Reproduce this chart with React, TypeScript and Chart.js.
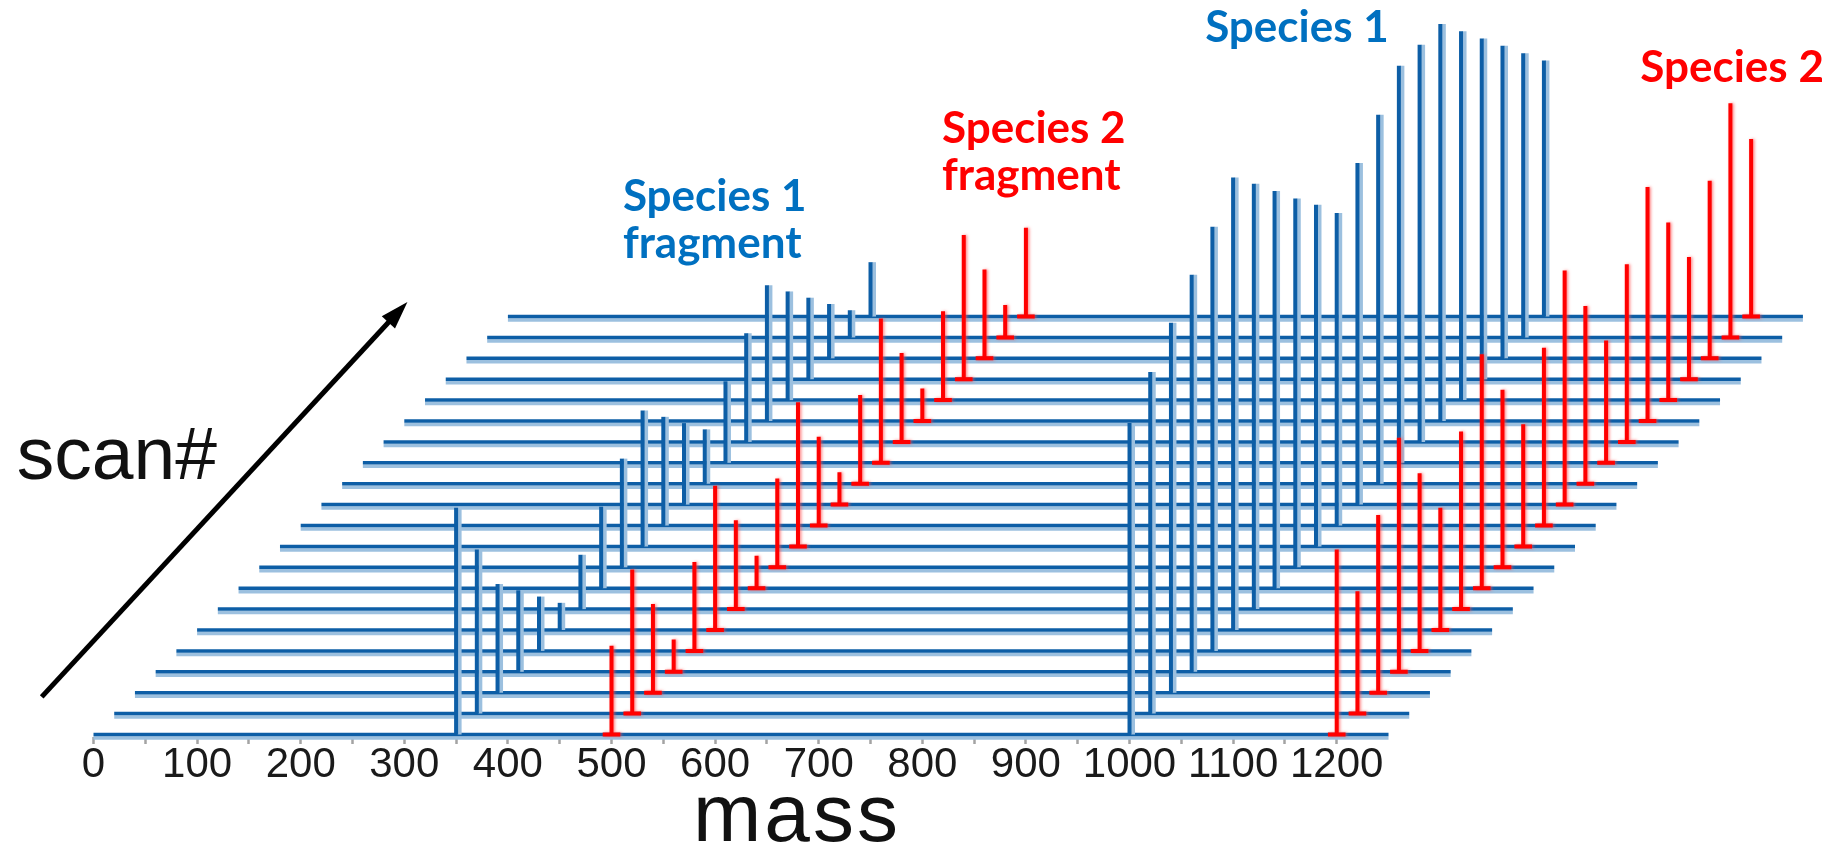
import { useEffect, useRef } from 'react';
import { Chart, registerables } from 'chart.js';

Chart.register(...registerables);

// Scan numbers, front (0) to back (20)
const scans = [0, 1, 2, 3, 4, 5, 6, 7, 8, 9, 10, 11, 12, 13, 14, 15, 16, 17, 18, 19, 20];

// Peak positions on the mass axis
const species1FragmentMass = 350;
const species2FragmentMass = 500;
const species1Mass = 1000;
const species2Mass = 1200;

// Peak intensities per scan
const species1Fragment = [217, 157, 104, 78, 52, 26, 52, 78, 104, 130, 104, 78, 52, 78, 104, 130, 104, 78, 52, 26, 52];
const species2Fragment = [85, 138, 85, 31, 85, 138, 85, 31, 85, 138, 85, 31, 85, 138, 85, 31, 85, 138, 85, 31, 85];
const species1 = [298, 327, 354, 380, 406, 433, 407, 380, 353, 327, 299, 327, 353, 380, 380, 380, 353, 326, 299, 272, 245];
const species2 = [177, 117, 170, 224, 170, 117, 170, 224, 170, 117, 170, 224, 170, 117, 170, 224, 170, 117, 170, 224, 170];

// Mass axis ticks (labelled every 100, tick marks every 50)
const massTickMarks = [0, 50, 100, 150, 200, 250, 300, 350, 400, 450, 500, 550, 600, 650, 700, 750, 800, 850, 900, 950, 1000, 1050, 1100, 1150, 1200];
const massTickLabels = [0, 100, 200, 300, 400, 500, 600, 700, 800, 900, 1000, 1100, 1200];

// Oblique projection: each scan is shifted right and up by this amount
const SCAN_SHIFT = 20;
const SCAN_MASS_RANGE = 1250;
const FOOT_HALF = 8.5;

const DARK_BLUE = '#0d5ea6';
const SHADE_BLUE = '#9cc0df';
const RED = '#ff0000';
const LABEL_BLUE = '#0070c0';

type Pt = { x: number; y: number };

function stem(mass: number, scan: number, h: number): Pt[] {
  const x = mass + scan * SCAN_SHIFT;
  const y0 = scan * SCAN_SHIFT;
  return [{ x, y: y0 }, { x, y: y0 + h }];
}

function footedStem(mass: number, scan: number, h: number): Pt[] {
  const x = mass + scan * SCAN_SHIFT;
  const y0 = scan * SCAN_SHIFT;
  return [
    { x: x - FOOT_HALF, y: y0 },
    { x: x + FOOT_HALF, y: y0 },
    { x, y: y0 },
    { x, y: y0 + h },
  ];
}

function buildDatasets() {
  const sets: any[] = [];
  // first dataset is painted last, so the front scan goes first
  scans.forEach((s, i) => {
    const common = { showLine: true, pointRadius: 0, pointHoverRadius: 0, clip: false, borderCapStyle: 'butt', borderJoinStyle: 'miter' };
    sets.push({ ...common, data: footedStem(species2FragmentMass, s, species2Fragment[i]), borderColor: RED, borderWidth: 4, shade: 'red' });
    sets.push({ ...common, data: footedStem(species2Mass, s, species2[i]), borderColor: RED, borderWidth: 4, shade: 'red' });
    sets.push({ ...common, data: stem(species1FragmentMass, s, species1Fragment[i]), borderColor: DARK_BLUE, borderWidth: 4, shade: 'stem' });
    sets.push({ ...common, data: stem(species1Mass, s, species1[i]), borderColor: DARK_BLUE, borderWidth: 4, shade: 'stem' });
    sets.push({
      ...common,
      data: [
        { x: s * SCAN_SHIFT, y: s * SCAN_SHIFT },
        { x: s * SCAN_SHIFT + SCAN_MASS_RANGE, y: s * SCAN_SHIFT },
      ],
      borderColor: DARK_BLUE,
      borderWidth: 3.5,
      shade: 'base',
    });
  });
  return sets;
}

// Text annotations, anchored in chart data units
const speciesLabels = [
  { lines: ['Species 1', 'fragment'], mass: 511, y: 501, color: LABEL_BLUE },
  { lines: ['Species 2', 'fragment'], mass: 819, y: 566, color: RED },
  { lines: ['Species 1'], mass: 1073, y: 663, color: LABEL_BLUE },
  { lines: ['Species 2'], mass: 1493, y: 624, color: RED },
];

const shadePlugin = {
  id: 'tubeShade',
  beforeDatasetDraw(chart: any, args: any) {
    const ds = chart.data.datasets[args.index];
    const ctx = chart.ctx as CanvasRenderingContext2D;
    ctx.save();
    ctx.shadowBlur = 0;
    if (ds.shade === 'base') {
      ctx.shadowColor = SHADE_BLUE;
      ctx.shadowOffsetX = 0;
      ctx.shadowOffsetY = 3.5;
    } else if (ds.shade === 'stem') {
      ctx.shadowColor = SHADE_BLUE;
      ctx.shadowOffsetX = 3.5;
      ctx.shadowOffsetY = 0;
    } else if (ds.shade === 'red') {
      ctx.shadowColor = 'rgba(255,80,80,0.65)';
      ctx.shadowBlur = 3;
      ctx.shadowOffsetX = 1.5;
      ctx.shadowOffsetY = 0;
    }
  },
  afterDatasetDraw(chart: any) {
    chart.ctx.restore();
  },
};

const annotationPlugin = {
  id: 'annotations',
  afterDraw(chart: any) {
    const ctx = chart.ctx as CanvasRenderingContext2D;
    const xs = chart.scales.x;
    const ys = chart.scales.y;
    const px = (m: number) => xs.getPixelForValue(m);
    const py = (v: number) => ys.getPixelForValue(v);
    ctx.save();

    // species labels
    ctx.textAlign = 'left';
    ctx.textBaseline = 'alphabetic';
    ctx.font = 'bold 44px Lato, "Open Sans", sans-serif';
    speciesLabels.forEach((l) => {
      ctx.fillStyle = l.color;
      l.lines.forEach((t, k) => ctx.fillText(t, px(l.mass), py(l.y) + k * 47));
    });

    // scan direction arrow
    const x0 = px(-50), y0 = py(36);
    const x1 = px(303), y1 = py(414);
    const ang = Math.atan2(y1 - y0, x1 - x0);
    const headLen = 28, headHalf = 9;
    const bx = x1 - headLen * Math.cos(ang), by = y1 - headLen * Math.sin(ang);
    ctx.strokeStyle = '#000';
    ctx.lineWidth = 5;
    ctx.beginPath();
    ctx.moveTo(x0, y0);
    ctx.lineTo(bx + 4 * Math.cos(ang), by + 4 * Math.sin(ang));
    ctx.stroke();
    ctx.fillStyle = '#000';
    ctx.beginPath();
    ctx.moveTo(x1, y1);
    ctx.lineTo(bx + headHalf * Math.sin(ang), by - headHalf * Math.cos(ang));
    ctx.lineTo(bx - headHalf * Math.sin(ang), by + headHalf * Math.cos(ang));
    ctx.closePath();
    ctx.fill();

    // axis words
    ctx.fillStyle = '#111';
    ctx.font = '75px "Liberation Sans", Arial, sans-serif';
    ctx.textAlign = 'left';
    ctx.fillText('scan#', px(-74), py(244.5));
    ctx.font = '82px "Liberation Sans", Arial, sans-serif';
    ctx.textAlign = 'center';
    (ctx as any).letterSpacing = '3px';
    ctx.fillText('mass', px(679), py(-102));
    ctx.restore();
  },
};

export default function App() {
  const ref = useRef<HTMLCanvasElement | null>(null);

  useEffect(() => {
    if (!ref.current) return;
    const chart = new Chart(ref.current, {
      type: 'scatter',
      data: { datasets: buildDatasets() },
      options: {
        animation: false,
        responsive: true,
        maintainAspectRatio: false,
        events: [],
        layout: { padding: { left: 0, right: 0, top: 0, bottom: 58 } },
        plugins: { legend: { display: false }, tooltip: { enabled: false } },
        scales: {
          x: {
            type: 'linear',
            position: 'bottom',
            min: -90.25,
            max: 1680,
            afterBuildTicks: (scale: any) => {
              scale.ticks = massTickMarks.map((v) => ({ value: v }));
            },
            ticks: {
              autoSkip: false,
              maxRotation: 0,
              minRotation: 0,
              padding: 0,
              color: '#1a1a1a',
              font: { family: '"Liberation Sans", Arial, sans-serif', size: 42, lineHeight: 1 },
              callback: (v: any) => (massTickLabels.includes(Number(v)) ? String(v) : ''),
            },
            grid: {
              display: true,
              drawOnChartArea: false,
              drawTicks: true,
              tickLength: 7,
              tickColor: '#a3a3a3',
              tickWidth: 2.5,
            },
            border: { display: false },
          },
          y: {
            type: 'linear',
            display: false,
            min: -2.39,
            max: 702.9,
          },
        },
      },
      plugins: [shadePlugin, annotationPlugin],
    });
    return () => chart.destroy();
  }, []);

  return (
    <div style={{ position: 'fixed', left: 0, top: 0, width: 1834, height: 844, background: '#fff' }}>
      <canvas ref={ref} />
    </div>
  );
}
